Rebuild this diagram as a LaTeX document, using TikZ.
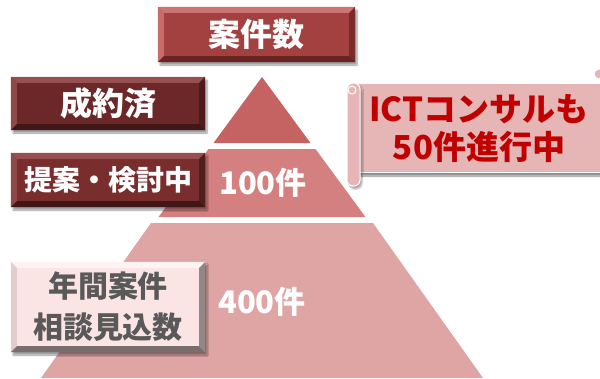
\documentclass[tikz,border=0pt]{standalone}
\usepackage{fontspec}
\newfontfamily\jp{Noto Sans CJK JP}
\usetikzlibrary{shadows.blur}
\definecolor{tri1}{RGB}{197,98,98}
\definecolor{tri2}{RGB}{212,128,128}
\definecolor{tri3}{RGB}{223,165,165}
\definecolor{scrollc}{RGB}{230,182,182}
\definecolor{ictred}{RGB}{192,0,0}
\definecolor{kface}{RGB}{163,64,64}
\definecolor{klight}{RGB}{205,115,115}
\definecolor{kdark}{RGB}{105,35,35}
\definecolor{sface}{RGB}{108,40,40}
\definecolor{slight}{RGB}{150,80,80}
\definecolor{sdark}{RGB}{65,22,22}
\definecolor{tface}{RGB}{122,45,45}
\definecolor{nface}{RGB}{251,228,228}
\definecolor{nlight}{RGB}{255,242,242}
\definecolor{nleft}{RGB}{225,205,205}
\definecolor{ndark}{RGB}{120,110,110}
\definecolor{ntext}{RGB}{89,89,89}
\newcommand\mybevel[5]{% name, top, left, right, bottom
  \fill[#2] (#1.north west) -- (#1.north east) -- ([shift={(-6,6)}]#1.north east) -- ([shift={(6,6)}]#1.north west) -- cycle;
  \fill[#3] (#1.north west) -- (#1.south west) -- ([shift={(6,-6)}]#1.south west) -- ([shift={(6,6)}]#1.north west) -- cycle;
  \fill[#4] (#1.north east) -- (#1.south east) -- ([shift={(-6,-6)}]#1.south east) -- ([shift={(-6,6)}]#1.north east) -- cycle;
  \fill[#5] (#1.south west) -- (#1.south east) -- ([shift={(-6,-6)}]#1.south east) -- ([shift={(6,-6)}]#1.south west) -- cycle;
}
\begin{document}
\begin{tikzpicture}[x=1pt,y=-1pt,
  boxbg/.style={inner sep=0pt, minimum width=194pt,
    blur shadow={shadow xshift=2pt, shadow yshift=-3pt, shadow blur steps=6, shadow opacity=40}},
  boxtext/.style={inner sep=0pt, align=center,
    font=\jp\bfseries\fontsize{32}{36}\selectfont, text=white},
  count/.style={font=\jp\bfseries\fontsize{31}{34}\selectfont, text=white}]
\useasboundingbox (0,0) rectangle (600,378);
% pyramid
\fill[tri1] (262,77) -- (310.5,143) -- (213.5,143) -- cycle;
\fill[tri2] (208.5,149) -- (315.5,149) -- (365.5,217) -- (158.5,217) -- cycle;
\fill[tri3] (151,223) -- (373,223) -- (483,378) -- (41,378) -- cycle;
\node[count] (c100) at (263,183) {100件};
\node[count] (c400) at (262,302) {400件};
% scroll
\fill[scrollc, draw=white, line width=1pt,
  blur shadow={shadow xshift=2pt, shadow yshift=-4pt, shadow blur steps=6, shadow opacity=45}]
  (357,83) rectangle (612,172);
\fill[scrollc, draw=white, line width=1pt] (599,74) circle (5);
\fill[scrollc, draw=white, line width=1pt, rounded corners=6pt,
  blur shadow={shadow xshift=2pt, shadow yshift=-3pt, shadow blur steps=6, shadow opacity=35}]
  (347,83) rectangle (360,186);
\draw[white, line width=1pt] (352,90) circle (4);
\node[font=\jp\bfseries\fontsize{33}{38}\selectfont, text=ictred, align=center] (ict) at (479,129) {ICTコンサルも\\50件進行中};
% boxes
\node[boxbg, fill=kface, minimum width=197pt, minimum height=55pt] (kensu) at (256.5,34.5) {};
\mybevel{kensu}{klight}{klight!85!kface}{kdark!70!kface}{kdark}
\node[boxtext] (kensut) at (kensu) {案件数};
\node[boxbg, fill=sface, minimum height=53pt] (seiyaku) at (108,103.5) {};
\mybevel{seiyaku}{slight}{slight!80!sface}{sdark!70!sface}{sdark}
\node[boxtext] (seiyakut) at (seiyaku) {成約済};
\node[boxbg, fill=tface, minimum height=54pt] (teian) at (108,180) {};
\mybevel{teian}{slight}{slight!80!tface}{sdark!70!tface}{sdark}
\node[boxtext, font=\jp\bfseries\fontsize{28}{32}\selectfont] (teiant) at (teian) {提案・検討中};
\node[boxbg, fill=nface, minimum height=90pt] (nenkan) at (108,307) {};
\mybevel{nenkan}{nlight}{nleft}{ndark!80!nface}{ndark}
\node[boxtext, text=ntext, font=\jp\bfseries\fontsize{30}{41}\selectfont] (nenkant) at (nenkan) {年間案件\\相談見込数};
\end{tikzpicture}
\end{document}
